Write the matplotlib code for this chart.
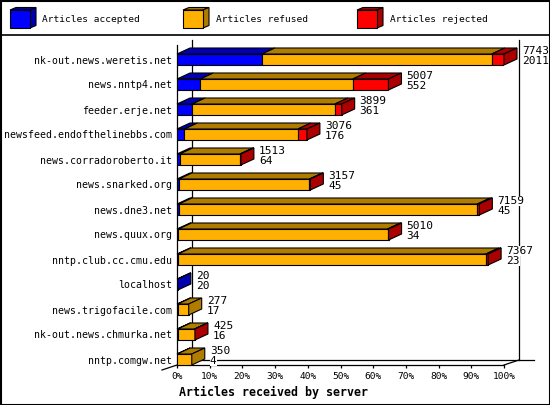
import numpy as np
import matplotlib
matplotlib.use("Agg")
import matplotlib.pyplot as plt
from matplotlib.patches import Polygon, Rectangle

# data: articles per server
servers = ["nk-out.news.weretis.net", "news.nntp4.net", "feeder.erje.net",
           "newsfeed.endofthelinebbs.com", "news.corradoroberto.it",
           "news.snarked.org", "news.dne3.net", "news.quux.org",
           "nntp.club.cc.cmu.edu", "localhost", "news.trigofacile.com",
           "nk-out.news.chmurka.net", "nntp.comgw.net"]
totals = [7743, 5007, 3899, 3076, 1513, 3157, 7159, 5010, 7367, 20, 277, 425, 350]
accepted = [2011, 552, 361, 176, 64, 45, 45, 34, 23, 20, 17, 16, 4]
rejected = [291, 845, 159, 213, 24, 20, 47, 25, 55, 0, 0, 10, 0]
refused = [t - a - r for t, a, r in zip(totals, accepted, rejected)]

series_names = ["Articles accepted", "Articles refused", "Articles rejected"]
front_cols = ["#0000ff", "#ffb000", "#ff0000"]
shade_cols = ["#0000b0", "#b07c00", "#aa0000"]
xticks = list(range(0, 101, 10))
xlabels = ["%d%%" % v for v in xticks]

mono = "DejaVu Sans Mono"
W, H = 550, 405
fig = plt.figure(figsize=(5.5, 4.05), dpi=100)
fig.patch.set_facecolor("white")

# plot axes: front plane, pixel box 177..504 x 45..365
x0, x1, y0, y1 = 177, 504, 45, 365
row0, rowstep = 59.5, 25.0
ax = fig.add_axes([x0 / W, (H - y1) / H, (x1 - x0) / W, (y1 - y0) / H])
ax.set_xlim(0, 100)
ax.set_ylim((y1 - row0) / rowstep, (y0 - row0) / rowstep)
ax.set_facecolor("none")
for s in ["top", "right"]:
    ax.spines[s].set_visible(False)
for s in ["left", "bottom"]:
    ax.spines[s].set_linewidth(0.9)

px = 100.0 / (x1 - x0)     # percent per pixel
py = 1.0 / rowstep         # rows per pixel
lw = 0.8

# back wall of the 3d box
wdx, wdy = 15 * px, -5 * py
ybot = ax.get_ylim()[0]
ytop = ax.get_ylim()[1]
kw = dict(color="black", lw=0.9, clip_on=False, zorder=1)
ax.plot([wdx, wdx], [ybot + wdy, ytop + wdy], **kw)
ax.plot([100 + wdx, 100 + wdx], [ybot + wdy, ytop + wdy], **kw)
ax.plot([wdx, 100 + 2 * wdx], [ybot + wdy, ybot + wdy], **kw)
ax.plot([wdx, -wdx], [ybot + wdy, ybot - wdy], **kw)
ax.plot([100, 100 + wdx], [ybot, ybot + wdy], **kw)

# bars
tmax = max(totals)
bh = 11 * py
ddx, ddy = 13 * px, -6 * py
for i in range(len(servers)):
    vals = [accepted[i], refused[i], rejected[i]]
    pct = [v * 100.0 / tmax for v in vals]
    left = 0.0
    last = 0
    for k in range(3):
        w = pct[k]
        if w <= 0:
            continue
        ax.barh(i, w, left=left, height=bh, color=front_cols[k],
                edgecolor="black", linewidth=lw, zorder=3)
        top = i - bh / 2
        ax.add_patch(Polygon([(left, top), (left + w, top), (left + w + ddx, top + ddy),
                              (left + ddx, top + ddy)], closed=True,
                             facecolor=shade_cols[k], edgecolor="black",
                             linewidth=lw, zorder=3, clip_on=False))
        left += w
        last = k
    end = left
    ax.add_patch(Polygon([(end, i - bh / 2), (end + ddx, i - bh / 2 + ddy),
                          (end + ddx, i + bh / 2 + ddy), (end, i + bh / 2)], closed=True,
                         facecolor=shade_cols[last], edgecolor="black",
                         linewidth=lw, zorder=3, clip_on=False))
    tx = end + 18 * px
    ax.text(tx, i - 8.5 * py, str(totals[i]), family=mono, fontsize=8,
            va="center", ha="left", zorder=4, clip_on=False,
            bbox=dict(facecolor="white", edgecolor="none", pad=0))
    ax.text(tx, i + 1.5 * py, str(accepted[i]), family=mono, fontsize=8,
            va="center", ha="left", zorder=4, clip_on=False,
            bbox=dict(facecolor="white", edgecolor="none", pad=0))

ax.set_yticks(range(len(servers)))
ax.set_yticklabels(servers, family=mono, fontsize=7.1)
ax.tick_params(axis="y", length=0, pad=3.6)
ax.set_xticks(xticks)
ax.set_xticklabels(xlabels, family=mono, fontsize=6.8)
ax.tick_params(axis="x", length=2.4, width=0.9, pad=2.5, direction="out")

fig.text(179 / W, 1 - 392 / H, "Articles received by server", family=mono,
         fontsize=8.4, fontweight="bold", ha="left", va="center")

# legend strip at the top
lax = fig.add_axes([0, 0, 1, 1])
lax.set_xlim(0, W)
lax.set_ylim(H, 0)
lax.axis("off")
lax.set_zorder(-1)
lax.plot([0, W], [35, 35], color="black", lw=1.2)
lax.add_patch(Rectangle((0.5, 0.5), W - 1, H - 1, fill=False, edgecolor="black", lw=1.5))
for k, (cx, txx) in enumerate([(10, 42), (183, 216), (357, 390)]):
    fw, fh, dx, dy = 20, 18, 6, -2.5
    fy = 10
    lax.add_patch(Polygon([(cx, fy), (cx + fw, fy), (cx + fw + dx, fy + dy), (cx + dx, fy + dy)],
                          closed=True, facecolor=shade_cols[k], edgecolor="black", lw=lw))
    lax.add_patch(Polygon([(cx + fw, fy), (cx + fw + dx, fy + dy), (cx + fw + dx, fy + fh + dy),
                           (cx + fw, fy + fh)], closed=True, facecolor=shade_cols[k],
                          edgecolor="black", lw=lw))
    lax.add_patch(Rectangle((cx, fy), fw, fh, facecolor=front_cols[k], edgecolor="black", lw=lw))
    lax.text(txx, 20, series_names[k], family=mono, fontsize=6.8, va="center", ha="left")

fig.savefig("out.png", dpi=100)
